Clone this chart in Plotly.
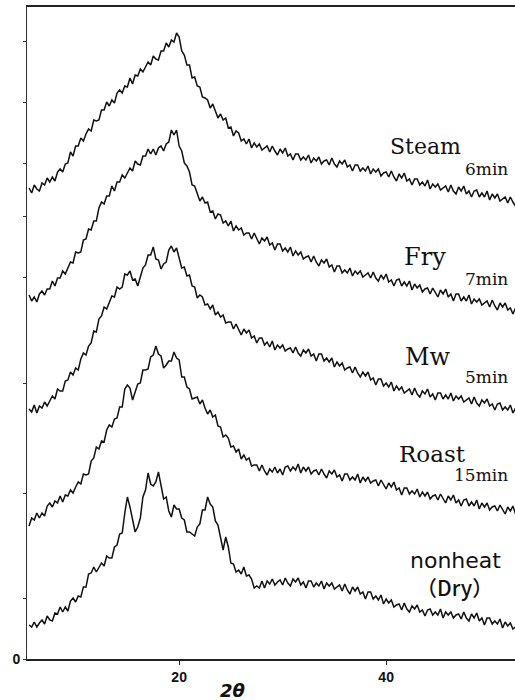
import numpy as np
import plotly.graph_objects as go

# Powder X-ray diffraction scans, 2θ from 5.5° in 0.25° steps.
# Each pattern is stored already shifted upward for the stacked display.
scan_start = 5.5
scan_step = 0.25

steam_6min = [
    471, 466, 474, 470, 468, 476, 474, 481, 477, 482,
    478, 487, 490, 487, 495, 496, 507, 503, 513, 513,
    521, 518, 525, 530, 528, 539, 538, 539, 549, 549,
    557, 553, 559, 556, 566, 569, 566, 573, 572, 581,
    575, 584, 583, 590, 587, 592, 597, 594, 603, 600,
    599, 608, 608, 616, 612, 619, 617, 626, 622, 608,
    604, 594, 594, 581, 582, 573, 572, 562, 561, 559,
    551, 555, 547, 541, 545, 539, 541, 531, 532, 523,
    528, 526, 518, 520, 515, 520, 511, 516, 512, 515,
    509, 511, 513, 507, 513, 508, 504, 510, 506, 511,
    503, 505, 499, 505, 505, 499, 502, 499, 504, 496,
    501, 498, 502, 495, 498, 499, 494, 501, 495, 492,
    498, 495, 499, 492, 494, 488, 494, 494, 488, 491,
    488, 493, 485, 490, 487, 490, 483, 486, 487, 482,
    488, 482, 478, 485, 481, 486, 478, 480, 474, 480,
    480, 474, 477, 473, 479, 470, 475, 472, 475, 469,
    471, 473, 467, 474, 468, 465, 472, 468, 473, 465,
    468, 462, 468, 469, 462, 466, 462, 468, 459, 465,
    461, 465, 458, 460, 462, 456, 462, 457, 453,
]

fry_7min = [
    364, 358, 362, 357, 365, 368, 364, 370, 370, 378,
    373, 381, 381, 388, 385, 391, 397, 396, 407, 406,
    407, 419, 420, 430, 429, 438, 438, 451, 457, 455,
    463, 463, 473, 468, 477, 477, 484, 481, 486, 491,
    488, 498, 495, 494, 503, 503, 510, 505, 510, 504,
    511, 513, 508, 515, 517, 529, 524, 529, 513, 508,
    496, 493, 487, 474, 473, 465, 458, 462, 456, 457,
    447, 448, 440, 445, 444, 436, 438, 433, 438, 428,
    433, 429, 431, 424, 426, 426, 420, 426, 420, 415,
    421, 418, 422, 414, 416, 409, 415, 415, 408, 411,
    407, 412, 403, 408, 404, 407, 400, 402, 403, 397,
    403, 397, 393, 399, 396, 400, 392, 394, 387, 393,
    393, 386, 389, 386, 391, 383, 388, 385, 388, 382,
    384, 386, 381, 387, 381, 378, 384, 380, 385, 377,
    379, 373, 379, 380, 373, 377, 373, 378, 369, 375,
    371, 374, 367, 370, 371, 365, 371, 366, 362, 369,
    365, 370, 362, 365, 358, 365, 365, 358, 362, 358,
    364, 355, 360, 357, 360, 354, 356, 358, 352, 359,
    353, 349, 356, 352, 356, 349, 351, 345, 351,
]

mw_5min = [
    250, 247, 254, 246, 253, 251, 257, 253, 258, 263,
    260, 270, 268, 268, 278, 279, 287, 284, 291, 289,
    300, 306, 304, 313, 316, 328, 327, 340, 343, 352,
    350, 357, 363, 362, 372, 370, 372, 385, 384, 388,
    379, 380, 373, 382, 391, 394, 404, 404, 412, 400,
    399, 390, 395, 397, 409, 413, 407, 411, 401, 391,
    392, 383, 384, 373, 372, 361, 364, 362, 354, 355,
    350, 354, 344, 347, 342, 344, 336, 337, 337, 330,
    335, 329, 324, 330, 326, 329, 321, 323, 316, 321,
    321, 314, 317, 312, 318, 309, 314, 311, 314, 308,
    310, 311, 306, 312, 306, 303, 309, 306, 310, 303,
    305, 298, 305, 305, 298, 301, 297, 301, 292, 297,
    293, 296, 289, 291, 292, 286, 292, 286, 282, 287,
    283, 287, 279, 281, 274, 280, 280, 273, 276, 272,
    277, 268, 273, 269, 272, 266, 268, 270, 264, 271,
    265, 262, 268, 265, 270, 262, 265, 259, 266, 266,
    260, 264, 260, 266, 258, 263, 260, 263, 257, 259,
    261, 255, 262, 256, 253, 259, 256, 260, 253, 255,
    249, 255, 256, 249, 252, 249, 254, 246, 251,
]

roast_15min = [
    133, 141, 139, 146, 141, 146, 143, 153, 156, 152,
    158, 156, 163, 157, 164, 163, 169, 166, 172, 177,
    175, 185, 184, 185, 198, 201, 212, 210, 218, 217,
    229, 234, 232, 240, 241, 252, 252, 270, 274, 271,
    259, 266, 275, 276, 289, 289, 290, 302, 304, 313,
    305, 303, 291, 294, 298, 298, 307, 301, 299, 282,
    282, 272, 270, 260, 261, 262, 255, 259, 251, 245,
    249, 242, 244, 233, 232, 222, 224, 221, 212, 213,
    207, 210, 200, 204, 199, 201, 193, 194, 194, 188,
    194, 188, 184, 190, 187, 192, 186, 190, 184, 192,
    193, 188, 192, 189, 195, 186, 192, 188, 192, 185,
    188, 189, 184, 190, 185, 181, 188, 185, 189, 182,
    184, 178, 185, 185, 179, 182, 179, 185, 176, 182,
    178, 182, 176, 178, 179, 173, 179, 174, 170, 176,
    172, 177, 169, 171, 164, 171, 171, 165, 168, 165,
    170, 162, 167, 163, 167, 160, 163, 164, 159, 165,
    160, 156, 163, 159, 164, 156, 159, 153, 159, 160,
    153, 157, 153, 159, 150, 156, 152, 156, 149, 152,
    153, 148, 154, 149, 145, 152, 148, 153, 145,
]

nonheat_dry = [
    34, 32, 37, 32, 36, 39, 35, 43, 39, 38,
    46, 45, 52, 47, 52, 48, 58, 61, 57, 63,
    62, 72, 72, 85, 86, 92, 87, 92, 96, 93,
    103, 101, 101, 112, 114, 125, 126, 146, 162, 152,
    140, 127, 132, 141, 162, 169, 186, 175, 173, 177,
    187, 174, 160, 162, 148, 142, 154, 150, 150, 141,
    139, 127, 127, 125, 123, 132, 135, 149, 149, 162,
    155, 152, 138, 134, 122, 109, 122, 112, 96, 95,
    87, 89, 85, 92, 83, 84, 80, 71, 73, 71,
    78, 71, 78, 75, 80, 74, 77, 79, 74, 81,
    76, 73, 80, 77, 81, 74, 77, 71, 78, 78,
    72, 76, 73, 78, 70, 76, 73, 76, 70, 72,
    74, 68, 75, 69, 65, 72, 68, 72, 65, 67,
    60, 67, 67, 60, 63, 59, 64, 55, 60, 56,
    59, 52, 54, 55, 49, 56, 50, 47, 53, 50,
    54, 47, 49, 43, 49, 50, 44, 47, 44, 50,
    41, 47, 44, 47, 41, 44, 45, 40, 47, 41,
    38, 45, 41, 46, 38, 41, 34, 41, 41, 35,
    38, 35, 40, 31, 37, 33, 36, 30, 32,
]

patterns = [steam_6min, fry_7min, mw_5min, roast_15min, nonheat_dry]

# Sample names and treatment times written beside each pattern
sample_names = ["Steam", "Fry", "Mw", "Roast", "nonheat"]
sample_times = ["6min", "7min", "5min", "15min", "（Dry）"]

x_ticks = [20, 40]
y_ticks = [0, 61, 166, 276, 382, 443, 496, 557, 618]
y_ticktext = ["0", "", "", "", "", "", "", "", ""]

INK = "#111111"

fig = go.Figure()
for counts in patterns:
    two_theta = scan_start + scan_step * np.arange(len(counts))
    fig.add_trace(go.Scatter(
        x=two_theta, y=counts, mode="lines",
        line=dict(color=INK, width=1.5),
        hoverinfo="skip", showlegend=False,
    ))

serif = "DejaVu Serif"
name_style = [
    dict(x=43.85, y=513, size=22),
    dict(x=43.75, y=402, size=24),
    dict(x=44.05, y=302, size=24),
    dict(x=44.45, y=205, size=23),
]
time_style = [
    dict(x=51.95, y=490),
    dict(x=51.95, y=380),
    dict(x=51.95, y=282),
    dict(x=51.95, y=184),
]

annotations = []
for name, st in zip(sample_names[:4], name_style):
    annotations.append(dict(
        x=st["x"], y=st["y"], xref="x", yref="y", text=name, showarrow=False,
        xanchor="center", yanchor="middle",
        font=dict(family=serif, size=st["size"], color=INK),
    ))
for t, st in zip(sample_times[:4], time_style):
    annotations.append(dict(
        x=st["x"], y=st["y"], xref="x", yref="y", text=t, showarrow=False,
        xanchor="right", yanchor="middle",
        font=dict(family=serif, size=17, color=INK),
    ))
annotations.append(dict(
    x=46.7, y=99, xref="x", yref="y", text=sample_names[4], showarrow=False,
    xanchor="center", yanchor="middle",
    font=dict(family="DejaVu Sans", size=22, color=INK),
))
annotations.append(dict(
    x=46.6, y=72, xref="x", yref="y", text=sample_times[4], showarrow=False,
    xanchor="center", yanchor="middle",
    font=dict(family="Noto Sans CJK JP", size=21, color=INK, weight=500),
))
# axis caption under the x axis
annotations.append(dict(
    x=25.2, y=0, xref="x", yref="paper", yshift=-31, text="<i>2θ</i>",
    showarrow=False, xanchor="center", yanchor="middle",
    font=dict(family="DejaVu Sans", size=18, color=INK, weight="bold"),
))

fig.update_layout(
    width=515, height=700,
    margin=dict(l=27, r=0, t=7, b=41),
    paper_bgcolor="white", plot_bgcolor="white",
    annotations=annotations,
    showlegend=False,
    hovermode=False,
)
fig.update_xaxes(
    range=[5.3, 52.45], showgrid=False, zeroline=False,
    showline=True, linecolor="#222222", linewidth=1.5, mirror=True,
    ticks="outside", ticklen=4, tickwidth=1, tickcolor="#222222",
    tickvals=x_ticks, ticktext=[str(v) for v in x_ticks],
    tickfont=dict(family="Liberation Sans", size=14, color=INK, weight="bold"),
    automargin=False,
)
fig.update_yaxes(
    range=[0, 652], showgrid=False, zeroline=False,
    showline=True, linecolor="#333333", linewidth=1,
    ticks="outside", ticklen=3, tickwidth=1, tickcolor="#333333",
    tickvals=y_ticks, ticktext=y_ticktext,
    tickfont=dict(family="Liberation Sans", size=14, color=INK, weight="bold"),
    automargin=False,
)

fig.write_html("out.html", config={"displayModeBar": False})
